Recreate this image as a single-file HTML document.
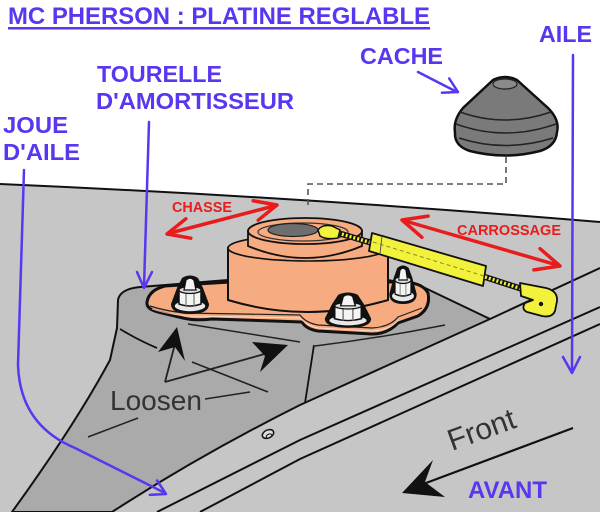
<!DOCTYPE html>
<html><head><meta charset="utf-8"><style>
html,body{margin:0;padding:0;background:#fff;}
svg{display:block;}
text{font-family:"Liberation Sans",Arial,sans-serif;}
</style></head><body>
<svg width="600" height="512" viewBox="0 0 600 512" xmlns="http://www.w3.org/2000/svg">
<rect width="600" height="512" fill="#fff"/>
<!-- ground -->
<path d="M0,184 Q300,197 600,222 L600,512 L0,512 Z" fill="#c6c6c6"/>
<path d="M0,184 Q300,197 600,222" fill="none" stroke="#111" stroke-width="2"/>
<!-- fender lines -->
<path d="M600,307 L300,440 L157,512" fill="none" stroke="#111" stroke-width="2"/>
<path d="M600,324 L300,459 L200,512" fill="none" stroke="#111" stroke-width="2"/>
<path d="M600,268 L490,319" fill="none" stroke="#111" stroke-width="2"/>
<!-- tower -->
<path d="M117,328 L118,300 Q120,289 140,287 L228,280 L388,280 L423,287 L490,319 L300,405 Q200,455 112,512 L12,512 Q75,425 110,360 Z" fill="#aaaaaa" stroke="#111" stroke-width="2" stroke-linejoin="round"/>
<path d="M120,329 Q138,340 157,348" fill="none" stroke="#111" stroke-width="1.8"/>
<path d="M188,324 L300,342" fill="none" stroke="#222" stroke-width="1.5"/>
<path d="M315,346 Q380,338 445,325" fill="none" stroke="#222" stroke-width="1.5"/>
<path d="M314,345 L305,403" fill="none" stroke="#111" stroke-width="1.8"/>
<!-- small hole -->
<ellipse cx="268" cy="434" rx="6" ry="4" transform="rotate(-25 268 434)" fill="#ddd" stroke="#111" stroke-width="1.5"/>
<ellipse cx="269" cy="436" rx="3" ry="1.8" transform="rotate(-25 269 436)" fill="none" stroke="#111" stroke-width="1"/>
<!-- loosen arrows -->
<path d="M165,382 L176,340" stroke="#222" stroke-width="1.8" fill="none"/>
<polygon points="177,327 185,361 175,347 158,352" fill="#111"/>
<path d="M165,382 L268,353" stroke="#222" stroke-width="1.8" fill="none"/>
<polygon points="288,345 260,372 265,356 252,342" fill="#111"/>
<path d="M192,362 L268,392" stroke="#222" stroke-width="1.6" fill="none"/>
<path d="M205,399 L250,392" stroke="#222" stroke-width="1.6" fill="none"/>
<path d="M88,437 L138,418" stroke="#222" stroke-width="1.6" fill="none"/>
<text x="110" y="410" font-size="28" fill="#333" textLength="92" lengthAdjust="spacingAndGlyphs">Loosen</text>
<!-- plate -->
<path d="M147,302 Q149,290 165,286 L230,282 L395,282 Q422,281 428,293 Q431,308 418,316 L398,323 Q388,334 372,334 L318,331 Q306,329 302,322 L212,319 Q195,321 183,318 L158,312 Q146,309 147,302 Z" fill="#f7ab80" stroke="#111" stroke-width="3" stroke-linejoin="round"/>
<path d="M150,306 Q165,311 185,313 L300,315 Q306,323 318,325 L372,328 Q390,327 398,317 L422,308" fill="none" stroke="#222" stroke-width="1.2"/>
<path d="M152,309 Q166,314 186,316 L300,318 Q307,326 318,328 L372,331 Q390,330 399,320" fill="none" stroke="#fff" stroke-width="0.8" opacity="0.7"/>
<!-- body -->
<path d="M228,248 L228,300 Q307,324 388,300 L388,248 Z" fill="#f7ab80" stroke="#111" stroke-width="2"/>
<ellipse cx="308" cy="248" rx="80" ry="13" fill="#f7ab80" stroke="#111" stroke-width="1.6"/>
<path d="M248,231 L248,246 Q305,270 362,246 L362,231 Z" fill="#f7ab80" stroke="#111" stroke-width="1.8"/>
<ellipse cx="305" cy="231" rx="57" ry="13" fill="#f7ab80" stroke="#111" stroke-width="1.8"/>
<ellipse cx="303" cy="232" rx="45" ry="9" fill="none" stroke="#333" stroke-width="1.2"/>
<ellipse cx="293" cy="230" rx="25" ry="6.5" fill="#6e6e6e" stroke="#222" stroke-width="1.2"/>
<!-- bolts -->
<g transform="translate(190,275)">
<path d="M-13,13 L-8,3 Q0,-2 8,3 L13,13 L19,29 Q19,39 0,39 Q-19,39 -19,29 Z" fill="#111"/>
<ellipse cx="0" cy="31" rx="16" ry="6" fill="#e8e8e8" stroke="#111" stroke-width="1.5"/>
<path d="M-11,15 L11,15 L11,29 Q0,33 -11,29 Z" fill="#f4f4f4" stroke="#111" stroke-width="1.5"/>
<path d="M-4,17 L-4,31 M4,17 L4,31" stroke="#777" stroke-width="1.2"/>
<ellipse cx="0" cy="15" rx="11" ry="3.5" fill="#ddd" stroke="#111" stroke-width="1.3"/>
<path d="M-6,15 L-4,5 Q0,1 4,5 L6,15 Z" fill="#f4f4f4" stroke="#111" stroke-width="1.3"/>
</g>
<g transform="translate(348,292) scale(1.22,0.92)">
<path d="M-13,13 L-8,3 Q0,-2 8,3 L13,13 L19,29 Q19,39 0,39 Q-19,39 -19,29 Z" fill="#111"/>
<ellipse cx="0" cy="31" rx="16" ry="6" fill="#e8e8e8" stroke="#111" stroke-width="1.5"/>
<path d="M-11,15 L11,15 L11,29 Q0,33 -11,29 Z" fill="#f4f4f4" stroke="#111" stroke-width="1.5"/>
<path d="M-4,17 L-4,31 M4,17 L4,31" stroke="#777" stroke-width="1.2"/>
<ellipse cx="0" cy="15" rx="11" ry="3.5" fill="#ddd" stroke="#111" stroke-width="1.3"/>
<path d="M-6,15 L-4,5 Q0,1 4,5 L6,15 Z" fill="#f4f4f4" stroke="#111" stroke-width="1.3"/>
</g>
<g transform="translate(403,265) scale(0.72,1)">
<path d="M-13,13 L-8,3 Q0,-2 8,3 L13,13 L19,29 Q19,39 0,39 Q-19,39 -19,29 Z" fill="#111"/>
<ellipse cx="0" cy="31" rx="16" ry="6" fill="#e8e8e8" stroke="#111" stroke-width="1.5"/>
<path d="M-11,15 L11,15 L11,29 Q0,33 -11,29 Z" fill="#f4f4f4" stroke="#111" stroke-width="1.5"/>
<path d="M-4,17 L-4,31 M4,17 L4,31" stroke="#777" stroke-width="1.2"/>
<ellipse cx="0" cy="15" rx="11" ry="3.5" fill="#ddd" stroke="#111" stroke-width="1.3"/>
<path d="M-6,15 L-4,5 Q0,1 4,5 L6,15 Z" fill="#f4f4f4" stroke="#111" stroke-width="1.3"/>
</g>
<!-- yellow rod -->
<path d="M338,233 L372,243" stroke="#111" stroke-width="6"/>
<path d="M338,233 L372,243" stroke="#f2f23c" stroke-width="3.5" stroke-dasharray="2,2"/>
<path d="M318,230 Q322,224 332,226 L340,230 L338,238 Q326,240 320,236 Z" fill="#f2f23c" stroke="#111" stroke-width="1.5"/>
<polygon points="372,233 486,266 483,286 369,251" fill="#f2f23c" stroke="#111" stroke-width="1.8" stroke-linejoin="round"/>
<path d="M373,242 L484,276" stroke="#8a8a20" stroke-width="1" stroke-dasharray="4,3"/>
<path d="M382,236 L380,254" stroke="#555" stroke-width="1"/>
<path d="M485,277 L522,289" stroke="#111" stroke-width="6"/>
<path d="M485,277 L522,289" stroke="#f2f23c" stroke-width="3.5" stroke-dasharray="2,2"/>
<path d="M520,283 L546,288 Q558,291 557,301 L555,311 Q552,318 542,316 L527,312 Q521,309 525,303 L533,300 L521,296 Z" fill="#f2f23c" stroke="#111" stroke-width="1.8" stroke-linejoin="round"/>
<circle cx="541" cy="304" r="2.2" fill="#111"/>
<!-- cache -->
<path d="M493,80 Q505,74 517,80 L548,108 Q560,120 557,132 Q556,146 540,151 Q505,160 470,151 Q454,146 455,132 Q453,120 463,108 Z" fill="#7a7a7a" stroke="#111" stroke-width="2.5"/>
<ellipse cx="505" cy="84" rx="12" ry="5" fill="#8a8a8a" stroke="#222" stroke-width="1.2"/>
<path d="M460,112 Q505,128 551,112 M456,124 Q505,142 556,124 M459,138 Q505,153 553,138" fill="none" stroke="#222" stroke-width="1.5"/>
<path d="M506,157 L506,184 L308,184 L308,208" fill="none" stroke="#555" stroke-width="1.6" stroke-dasharray="6,4"/>
<!-- red arrows -->
<g stroke="#e81c1c" stroke-width="3.5" fill="none" stroke-linecap="round" stroke-linejoin="round">
<path d="M170,233 L274,206"/>
<path d="M190.8,238.2 L167,234 L185.8,218.8"/>
<path d="M258.2,220.2 L277,205 L253.2,200.8"/>
<path d="M405,221 L557,265"/>
<path d="M421.9,237.3 L402,220 L428.1,216.1"/>
<path d="M533.9,269.9 L560,266 L540.1,248.7"/>
</g>
<text x="172" y="212" font-size="14.5" font-weight="bold" fill="#e81c1c" textLength="60" lengthAdjust="spacingAndGlyphs">CHASSE</text>
<text x="457" y="235" font-size="14.5" font-weight="bold" fill="#e81c1c" textLength="104" lengthAdjust="spacingAndGlyphs">CARROSSAGE</text>
<!-- front -->
<text x="452" y="451" font-size="30" fill="#333" transform="rotate(-20 452 451)">Front</text>
<path d="M573,428 L418,486" stroke="#111" stroke-width="2.2"/>
<polygon points="402,493 433,460 425,482 445,497" fill="#111"/>
<!-- blue labels -->
<g fill="#5a36f0" font-weight="bold">
<text x="8" y="24" font-size="24" textLength="422" lengthAdjust="spacingAndGlyphs">MC PHERSON : PLATINE REGLABLE</text>
<text x="360" y="64" font-size="23" textLength="83" lengthAdjust="spacingAndGlyphs">CACHE</text>
<text x="539" y="42" font-size="23" textLength="53" lengthAdjust="spacingAndGlyphs">AILE</text>
<text x="97" y="82" font-size="23" textLength="125" lengthAdjust="spacingAndGlyphs">TOURELLE</text>
<text x="96" y="109" font-size="23" textLength="198" lengthAdjust="spacingAndGlyphs">D'AMORTISSEUR</text>
<text x="3" y="133" font-size="23" textLength="65" lengthAdjust="spacingAndGlyphs">JOUE</text>
<text x="3" y="160" font-size="23" textLength="77" lengthAdjust="spacingAndGlyphs">D'AILE</text>
<text x="468" y="498" font-size="24" textLength="79" lengthAdjust="spacingAndGlyphs">AVANT</text>
</g>
<rect x="8" y="27" width="422" height="2.5" fill="#5a36f0"/>
<!-- blue leaders -->
<g stroke="#5a36f0" stroke-width="2.5" fill="none" stroke-linecap="round" stroke-linejoin="round">
<path d="M24,170 L18,365 Q20,425 75,448 L165,493"/>
<path d="M149.9,494.9 L166,494 L157.1,480.5"/>
<path d="M149,122 L144,287"/>
<path d="M137,272 L144,288 L152,272"/>
<path d="M573,55 L572,372"/>
<path d="M563,357 L572,373 L580,357"/>
<path d="M418,72 L457,92"/>
<path d="M441.9,92.7 L458,92 L449.2,78.5"/>
</g>
</svg>
</body></html>
